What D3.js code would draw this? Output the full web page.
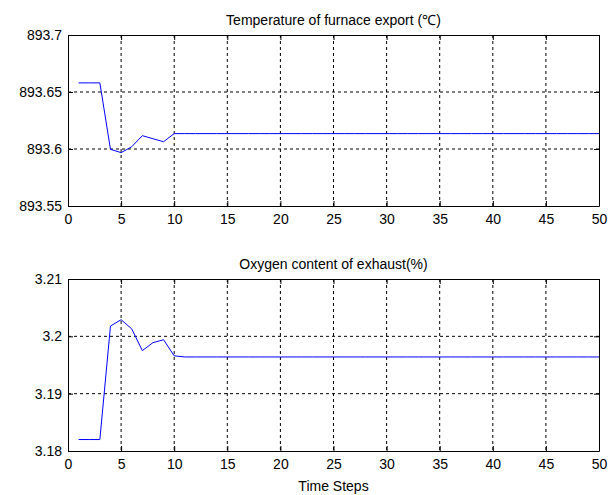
<!DOCTYPE html>
<html>
<head>
<meta charset="utf-8">
<script src="https://cdn.jsdelivr.net/npm/d3@7"></script>
<style>
	body { margin: 0; background: #fff; }
	text { font-family: "Liberation Sans", Arial, sans-serif; font-size: 14px; fill: #000; }
</style>
</head>
<body>
<svg class="chart" width="613" height="495"></svg>
<script>

// time steps 1..50
var steps = d3.range(1, 51);

// temperature of furnace export, first 10 steps then flat
var tempHead = [893.658, 893.658, 893.658, 893.5997, 893.5968, 893.602, 893.6117, 893.609, 893.6064, 893.6135];
var tempTail = 893.6135;

// oxygen content of exhaust
var oxyHead = [3.182, 3.182, 3.182, 3.2018, 3.2029, 3.2013, 3.1975, 3.1989, 3.1994, 3.1966];
var oxyTail = 3.1964;

var xTicks = [0, 5, 10, 15, 20, 25, 30, 35, 40, 45, 50];
var tempTicks = [893.55, 893.6, 893.65, 893.7];
var oxyTicks = [3.18, 3.19, 3.2, 3.21];

function series(head, tail) {
	return steps.map(function(s, i) {
		return {x: s, y: i < head.length ? head[i] : tail};
	});
}

var svg = d3.select("svg.chart");

var x = d3.scaleLinear().domain([0, 50]).range([68, 599]);

function panel(top, bottom, domain, yTicks, title, data) {
	var y = d3.scaleLinear().domain(domain).range([bottom, top]);
	var g = svg.append("g");

	// dotted grid
	g.selectAll(".vgrid")
		.data(xTicks.slice(1, -1))
		.enter().append("line")
		.attr("x1", function(d) { return x(d); })
		.attr("x2", function(d) { return x(d); })
		.attr("y1", top).attr("y2", bottom)
		.attr("stroke", "#000").attr("stroke-dasharray", "3,3");
	g.selectAll(".hgrid")
		.data(yTicks.slice(1, -1))
		.enter().append("line")
		.attr("x1", x(0)).attr("x2", x(50))
		.attr("y1", function(d) { return y(d); })
		.attr("y2", function(d) { return y(d); })
		.attr("stroke", "#000").attr("stroke-dasharray", "3,3");

	// axes, ticks pointing inward
	g.append("g")
		.attr("transform", "translate(0," + bottom + ")")
		.call(d3.axisBottom(x).tickValues(xTicks).tickSizeInner(-5).tickSizeOuter(0).tickPadding(8).tickFormat(d3.format("d")));
	g.append("g")
		.attr("transform", "translate(0," + top + ")")
		.call(d3.axisTop(x).tickValues(xTicks).tickSizeInner(-5).tickSizeOuter(0).tickFormat(""));
	g.append("g")
		.attr("transform", "translate(" + x(0) + ",0)")
		.call(d3.axisLeft(y).tickValues(yTicks).tickSizeInner(-5).tickSizeOuter(0).tickPadding(6).tickFormat(function(d) { return String(+d.toFixed(2)); }));
	g.append("g")
		.attr("transform", "translate(" + x(50) + ",0)")
		.call(d3.axisRight(y).tickValues(yTicks).tickSizeInner(-5).tickSizeOuter(0).tickFormat(""));
	g.selectAll(".domain").attr("stroke", "#000");
	g.selectAll(".tick line").attr("stroke", "#000");
	g.selectAll(".tick text").style("font-size", "14px").attr("fill", "#000");

	// data line
	g.append("path")
		.datum(data)
		.attr("fill", "none")
		.attr("stroke", "#0000ff")
		.attr("stroke-width", 1)
		.attr("d", d3.line().x(function(d) { return x(d.x); }).y(function(d) { return y(d.y); }));

	g.append("text")
		.attr("x", (x(0) + x(50)) / 2)
		.attr("y", top - 10)
		.attr("text-anchor", "middle")
		.text(title);
}

panel(35, 206, [893.55, 893.7], tempTicks, "Temperature of furnace export (\u2103)", series(tempHead, tempTail));
panel(279, 451, [3.18, 3.21], oxyTicks, "Oxygen content of exhaust(%)", series(oxyHead, oxyTail));

svg.append("text")
	.attr("x", (x(0) + x(50)) / 2)
	.attr("y", 491)
	.attr("text-anchor", "middle")
	.text("Time Steps");
</script>
</body>
</html>
